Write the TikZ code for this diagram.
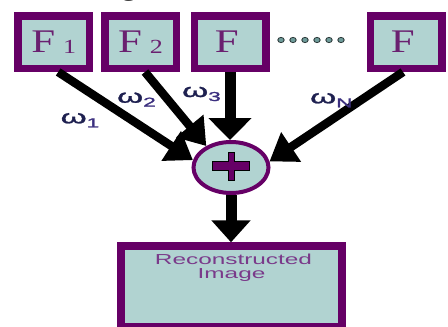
\documentclass[tikz,border=0pt]{standalone}
\usepackage{fontspec}
\usetikzlibrary{arrows.meta,shapes.geometric,calc}
\newfontfamily\serifF{Liberation Serif}
\newfontfamily\sansF{Liberation Sans}
\newfontfamily\sansW[FakeBold=1.2]{Liberation Sans}
\definecolor{bpurple}{HTML}{660066}
\definecolor{bfill}{HTML}{B1D3D1}
\definecolor{ftext}{HTML}{6A2070}
\definecolor{rtext}{HTML}{7A3A8A}
\definecolor{omcol}{HTML}{1E2050}
\definecolor{omsub}{HTML}{3B2F7F}
\definecolor{dotfill}{HTML}{6E9C9A}
\definecolor{dotline}{HTML}{2E3B3B}
\begin{document}
\begin{tikzpicture}[x=1pt,y=-1pt,
 fbox/.style={rectangle,draw=bpurple,line width=7.5pt,fill=bfill,minimum width=71.5pt,minimum height=52.5pt,inner sep=0pt,outer sep=3.75pt,text=ftext,font=\serifF\fontsize{33}{33}\selectfont},
 sumnode/.style={ellipse,draw=bpurple,line width=4pt,fill=bfill,minimum width=75pt,minimum height=51pt,inner sep=0pt,outer sep=2pt},
 outbox/.style={rectangle,draw=bpurple,line width=8pt,fill=bfill,minimum width=220.7pt,minimum height=80.7pt,inner sep=0pt,outer sep=4pt},
 rlab/.style={anchor=base,inner sep=0pt,text=rtext,font=\sansF\fontsize{14.5}{14}\selectfont},
 omlab/.style={anchor=base west,inner sep=0pt,text=omcol,font=\sansW\fontsize{19}{19}\selectfont},
 darr/.style={line width=8.5pt,-{Triangle[length=26pt,width=34pt]}},
 varr/.style={line width=11pt,-{Triangle[length=22pt,width=42pt]}},
 plusmark/.style={fill=bpurple,draw=black,line width=0.8pt},
 dotmark/.style={fill=dotfill,draw=dotline,line width=0.8pt}
]
\fill[white] (0,0) rectangle (448,327);
\useasboundingbox (0,0) rectangle (448,327);

% cut-off caption fragment
\node[anchor=base,inner sep=0pt,font=\serifF\fontsize{22}{22}\selectfont] (cap) at (129,-3.5) {\scalebox{1.3}[1]{g}};

% feature boxes
\node[fbox] (f1) at (53.7,42) {\scalebox{1.3}[1]{F\kern6pt\raisebox{-1.5pt}{\fontsize{20}{20}\selectfont 1}}};
\node[fbox] (f2) at (140.5,42) {\scalebox{1.3}[1]{F\kern6pt\raisebox{-1.5pt}{\fontsize{20}{20}\selectfont 2}}};
\node[fbox] (f3) at (230,42) {\scalebox{1.3}[1]{F\kern5pt}};
\node[fbox] (fn) at (406,42) {\scalebox{1.3}[1]{F\kern5pt}};

% dots
\foreach \i in {0,...,5} \filldraw[dotmark] (281+12*\i,40) ellipse [x radius=3.2, y radius=2.6];

% summation node
\node[sumnode] (sum) at (231,167.5) {};
\begin{scope}[shift={(sum.center)}]
\filldraw[plusmark] (-18.3,-6.5) -- (-3,-6.5) -- (-3,-14.8) -- (3,-14.8) -- (3,-6.5) -- (18.3,-6.5) -- (18.3,3.2) -- (3,3.2) -- (3,12.5) -- (-3,12.5) -- (-3,3.2) -- (-18.3,3.2) -- cycle;
\end{scope}

% output box
\node[outbox] (out) at (231.65,286.65) {};
\node[rlab] (rt1) at (233.5,264.3) {\scalebox{1.68}[1]{Reconstructed}};
\node[rlab] (rt2) at (231.5,278.3) {\scalebox{1.68}[1]{Image}};

% arrows
\draw[darr] ([xshift=4.5pt]f1.south) -- (sum.169);
\draw[darr] ([xshift=4.5pt]f2.south) -- (sum.139);
\draw[varr] (f3.south) -- (f3.south |- sum.north);
\draw[darr] ([xshift=-3pt]fn.south) -- (sum.9);
\draw[line width=11pt,-{Triangle[length=22pt,width=38pt]}] (sum.south) -- (sum.south |- out.north);

% weights
\node[omlab] (w1) at (60.5,123.3) {\scalebox{1.75}[1]{ω}\raisebox{-4pt}{\color{omsub}\fontsize{13}{13}\selectfont\scalebox{1.75}[1]{1}}};
\node[omlab] (w2) at (117,102.7) {\scalebox{1.75}[1]{ω}\raisebox{-4pt}{\color{omsub}\fontsize{13}{13}\selectfont\scalebox{1.75}[1]{2}}};
\node[omlab] (w3) at (182,97) {\scalebox{1.75}[1]{ω}\raisebox{-4pt}{\color{omsub}\fontsize{13}{13}\selectfont\scalebox{1.75}[1]{3}}};
\node[omlab] (wn) at (310,103.3) {\scalebox{1.75}[1]{ω}\raisebox{-4pt}{\color{omsub}\fontsize{13}{13}\selectfont\scalebox{1.75}[1]{N}}};
\end{tikzpicture}
\end{document}
